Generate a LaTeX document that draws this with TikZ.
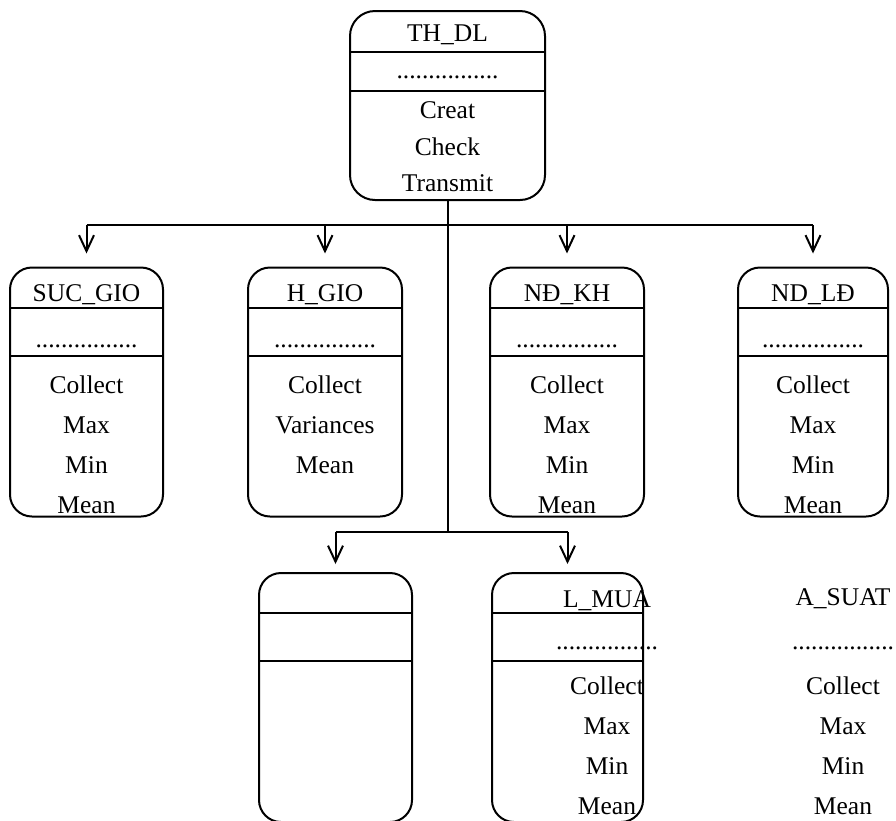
\documentclass[tikz,border=0pt]{standalone}
\usepackage{fontspec}
\setmainfont{Liberation Serif}
\usetikzlibrary{arrows.meta,calc}
\newcommand\dotrow{................}

\begin{document}
\begin{tikzpicture}[x=1pt,y=-1pt,>={Straight Barb[length=16pt,width=15pt]},line width=2pt,
  font=\fontsize{25.5}{30}\selectfont,
  cls/.style={draw,rounded corners=22pt,minimum width=#1,minimum height=249pt,inner sep=0pt},
  txt/.style={inner sep=0pt,text height=18pt,text depth=5pt}]
\useasboundingbox (0,0) rectangle (896,820);
\node[cls=195pt,minimum height=189pt,rounded corners=25pt] (th) at (447.5,105.5) {};
\draw (th.west |- 0,52) -- (th.east |- 0,52) (th.west |- 0,91) -- (th.east |- 0,91);
\foreach \t/\y [count=\i] in {TH\_DL/35,\dotrow/72,Creat/112,Check/149,Transmit/185}
  \node[txt] (th-\i) at (447.5,\y) {\t};
\foreach \n/\x/\w/\t/\m in {suc/86.5/153/SUC\_GIO/{Collect,Max,Min,Mean},hgio/325/154/H\_GIO/{Collect,Variances,Mean},
  ndkh/567/154/NĐ\_KH/{Collect,Max,Min,Mean},ndld/813/150/ND\_LĐ/{Collect,Max,Min,Mean}}
{ \node[cls=\w pt] (\n) at (\x,392) {};
  \draw (\n.west |- 0,308) -- (\n.east |- 0,308) (\n.west |- 0,356) -- (\n.east |- 0,356);
  \node[txt] (\n-t) at (\x,295) {\t};
  \node[txt] (\n-d) at (\x,341) {\dotrow};
  \foreach \s [count=\i] in \m \node[txt] (\n-\i) at (\x,347+40*\i) {\s};
  \coordinate (j\n) at (\x,225);
  \draw[->,shorten >=13pt] (j\n) -- (\n.north); }
\draw (jsuc) -- (jndld);
\node[cls=153pt] (emp) at (335.5,697.5) {};
\node[cls=151pt] (lmua) at (567.5,697.5) {};
\foreach \n in {emp,lmua}
  \draw (\n.west |- 0,613) -- (\n.east |- 0,613) (\n.west |- 0,661) -- (\n.east |- 0,661);
\coordinate (jemp) at (335.5,532); \coordinate (jlmua) at (567.5,532);
\draw (th.south) -- (447.5,532);
\draw (jemp) -- (jlmua);
\draw[->,shorten >=8pt] (jemp) -- (emp.north);
\draw[->,shorten >=8pt] (jlmua) -- (lmua.north);
\foreach \n/\x/\t/\y in {lm/607/L\_MUA/601,as/843/A\_SUAT/599}
{ \node[txt] (\n-t) at (\x,\y) {\t};
  \node[txt] (\n-d) at (\x,643) {\dotrow};
  \foreach \s [count=\i] in {Collect,Max,Min,Mean} \node[txt] (\n-\i) at (\x,648+40*\i) {\s}; }
\end{tikzpicture}
\end{document}
